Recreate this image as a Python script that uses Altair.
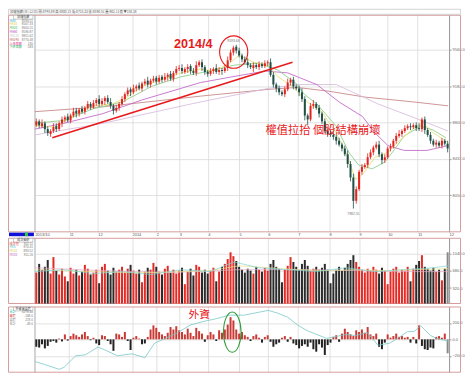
import altair as alt
import pandas as pd

# ---------------- data ----------------
close = [8820, 8780, 8800, 8740, 8700, 8720, 8760, 8740, 8800, 8840,
         8860, 8830, 8880, 8920, 8900, 8940, 8920, 8960, 9000, 8970,
         9010, 9040, 9000, 9030, 9060, 9020, 8980, 8930, 8960, 9000,
         9050, 9100, 9140, 9120, 9160, 9180, 9160, 9210, 9230, 9200,
         9240, 9260, 9230, 9270, 9250, 9280, 9300, 9260, 9320, 9360,
         9370, 9340, 9360, 9380, 9340, 9320, 9400, 9430, 9380, 9330,
         9310, 9340, 9360, 9330, 9350, 9340, 9370, 9450, 9530, 9580,
         9550, 9500, 9460, 9430, 9400, 9380, 9400, 9380, 9410, 9390,
         9420, 9430, 9300, 9200, 9160, 9120, 9100, 9150, 9220, 9250,
         9180, 9160, 9120, 9050, 8880, 8840, 8980, 9000, 8960, 8900,
         8820, 8720, 8690, 8680, 8660, 8620, 8580, 8540, 8480, 8380,
         8240, 8000, 8120, 8300, 8350, 8370, 8450, 8500, 8550, 8580,
         8480, 8420, 8450, 8540, 8560, 8620, 8670, 8690, 8720, 8750,
         8770, 8760, 8780, 8750, 8740, 8840, 8730, 8680, 8620, 8580,
         8600, 8570, 8620, 8590, 8540]
open_ = [8780, 8820, 8770, 8800, 8740, 8690, 8720, 8770, 8740, 8800,
         8840, 8870, 8830, 8880, 8930, 8900, 8950, 8920, 8960, 9000,
         8970, 9010, 9050, 9000, 9030, 9060, 9020, 8980, 8930, 8960,
         9000, 9050, 9100, 9150, 9120, 9160, 9190, 9160, 9210, 9240,
         9200, 9240, 9270, 9230, 9280, 9250, 9280, 9310, 9260, 9320,
         9360, 9370, 9330, 9360, 9390, 9340, 9320, 9400, 9430, 9380,
         9330, 9310, 9340, 9370, 9330, 9350, 9340, 9370, 9450, 9530,
         9590, 9550, 9500, 9460, 9430, 9400, 9370, 9400, 9380, 9410,
         9390, 9420, 9430, 9300, 9200, 9160, 9120, 9100, 9150, 9220,
         9250, 9180, 9160, 9120, 9050, 8880, 8840, 8980, 9000, 8960,
         8900, 8820, 8720, 8700, 8680, 8660, 8620, 8580, 8540, 8480,
         8380, 8240, 8000, 8120, 8300, 8350, 8370, 8450, 8500, 8550,
         8580, 8480, 8420, 8450, 8540, 8560, 8620, 8670, 8690, 8720,
         8750, 8770, 8760, 8780, 8750, 8740, 8840, 8730, 8680, 8620,
         8580, 8600, 8570, 8620, 8590]
wick_up = [30, 20, 40, 20, 30, 20, 40, 30, 20, 30,
           20, 30, 20, 40, 30, 20, 30, 20, 30, 20,
           30, 20, 40, 30, 20, 30, 40, 20, 30, 20,
           30, 20, 30, 20, 40, 20, 30, 20, 30, 40,
           20, 30, 20, 30, 20, 40, 20, 30, 20, 30,
           30, 40, 20, 30, 20, 30, 40, 20, 30, 20,
           20, 30, 20, 40, 30, 20, 30, 40, 30, 20,
           20, 30, 20, 30, 40, 20, 30, 20, 30, 20,
           30, 20, 40, 30, 20, 30, 20, 30, 40, 20,
           30, 20, 30, 40, 30, 20, 30, 40, 20, 30,
           20, 30, 20, 30, 40, 20, 30, 20, 30, 40,
           30, 40, 30, 20, 30, 20, 40, 30, 20, 30,
           40, 20, 30, 20, 30, 20, 30, 40, 20, 30,
           20, 30, 20, 30, 50, 20, 30, 20, 30, 20,
           30, 20, 30, 20, 30]
wick_dn = [20, 30, 20, 40, 30, 30, 20, 30, 20, 40,
           30, 20, 30, 20, 40, 30, 20, 30, 20, 30,
           20, 30, 30, 20, 40, 20, 30, 40, 20, 30,
           20, 30, 20, 40, 20, 30, 20, 30, 20, 30,
           30, 20, 30, 20, 30, 20, 40, 20, 30, 20,
           20, 30, 20, 40, 30, 20, 30, 20, 40, 30,
           30, 20, 30, 20, 30, 40, 20, 30, 20, 30,
           30, 20, 30, 20, 30, 20, 40, 20, 30, 20,
           20, 30, 20, 30, 40, 30, 20, 30, 20, 30,
           30, 20, 40, 30, 50, 60, 20, 30, 20, 40,
           30, 20, 30, 20, 30, 40, 20, 30, 20, 40,
           40, 80, 30, 20, 30, 20, 30, 20, 30, 20,
           30, 40, 30, 20, 30, 20, 30, 20, 30, 20,
           20, 30, 20, 30, 20, 30, 40, 20, 30, 20,
           30, 20, 30, 20, 40]
volume = [640, 820, 700, 760, 900, 620, 960, 680, 600, 720,
          560, 460, 740, 620, 700, 580, 660, 800, 720, 600,
          640, 700, 420, 760, 820, 680, 600, 740, 660, 700,
          760, 640, 720, 800, 680, 620, 700, 440, 660, 740,
          700, 840, 760, 660, 600, 720, 780, 640, 700, 620,
          680, 740, 400, 660, 720, 580, 800, 760, 640, 700,
          620, 680, 740, 460, 660, 760, 820, 920, 1060, 980,
          880, 760, 700, 640, 720, 680, 620, 760, 700, 660,
          740, 680, 820, 900, 760, 720, 440, 700, 780, 960,
          860, 760, 700, 820, 900, 780, 680, 720, 760, 700,
          740, 820, 700, 420, 620, 700, 760, 680, 740, 820,
          900, 1000, 860, 760, 700, 640, 720, 680, 760, 700,
          620, 740, 680, 400, 660, 720, 760, 640, 700, 680,
          760, 460, 720, 800, 880, 1000, 760, 720, 680, 740,
          660, 700, 480, 720, 1060]
foreign = [-90, -100, -60, -110, -80, -30, -20, -40, 10, -25,
           60, -15, 40, 70, 50, 30, 60, 90, 40, -10,
           20, -50, -70, 50, 40, -20, -60, -140, 70, 60,
           30, 90, -20, -130, 20, 40, 10, -60, -50, 30,
           120, 170, 140, 90, 60, 40, 80, 150, 120, 160,
           110, 90, 60, 130, 80, 40, 140, 100, 70, -30,
           50, 90, 60, -20, 110, 80, 120, 180, 270, 230,
           120, 70, 90, 50, 30, -20, 40, 60, 20, -40,
           30, 50, -30, -90, -60, -40, 20, 40, -30, 30,
           -50, -70, -110, -80, -60, -90, -40, -120, -150, -60,
           -100, -190, -70, -40, 30, 50, -30, 70, 130, 90,
           60, 40, 110, 90, 120, 80, 150, 60, 40, 70,
           -90, -120, -40, 60, 20, 40, 70, 30, 40, 20,
           30, -40, 30, -50, 170, -80, -120, -130, -100, -110,
           30, 40, 20, 70, -170]

# moving-average / cumulative lines (bar index, value)
ma10_i = [0, 6.8, 13.6, 20.4, 27.2, 32.3, 37.4, 44.2, 51.1, 57.9, 63, 68.1, 71.5, 76.6, 81.7, 85.1, 90.2, 95.3, 100.4, 105.5, 108.9, 112.3, 114.7, 119.1, 123.6, 127.6, 132.7, 136.1, 139.5, 144.7]
ma10_v = [8780, 8760, 8880, 8980, 9000, 9070, 9180, 9250, 9320, 9360, 9340, 9420, 9500, 9430, 9400, 9280, 9180, 9020, 8920, 8700, 8500, 8220, 8270, 8450, 8500, 8620, 8750, 8800, 8700, 8600]
ma20_i = [0, 10.2, 20.4, 30.6, 40.8, 51.1, 61.3, 69.8, 78.3, 85.1, 91.9, 94.3, 98.7, 105.5, 109.9, 113.3, 118.1, 122.5, 125.9, 129.3, 135.1, 139.5, 143.9]
ma20_v = [8800, 8830, 8950, 9020, 9180, 9280, 9340, 9400, 9420, 9350, 9200, 9100, 9000, 8770, 8500, 8370, 8330, 8400, 8530, 8670, 8770, 8730, 8650]
ma60_i = [0, 10.2, 23.8, 37.4, 51.1, 57.9, 69.1, 80.7, 88.5, 91.9, 98.7, 106.5, 114.7, 119.1, 123.6, 129.3, 137.2, 144.7]
ma60_v = [8740, 8800, 8900, 9040, 9160, 9220, 9280, 9340, 9320, 9280, 9200, 9020, 8870, 8700, 8570, 8520, 8520, 8570]
ma120_i = [0, 23.8, 57.9, 81.7, 91.9, 105.5, 120.1, 131.7, 144.7]
ma120_v = [8680, 8800, 9020, 9160, 9200, 9200, 9000, 8870, 8720]
ma240_i = [0, 23.8, 57.9, 81.7, 91.9, 103.1, 115.7, 132.7, 144.7]
ma240_v = [8920, 8970, 9080, 9150, 9170, 9130, 9070, 9020, 8980]

vma1_i = [0, 10.2, 20.4, 30.6, 40.8, 51.1, 61.3, 69.8, 78.3, 88.5, 98.7, 108.9, 119.1, 129.3, 139.5, 144.7]
vma1_v = [660, 700, 620, 660, 600, 700, 660, 860, 740, 700, 660, 740, 660, 700, 740, 780]
vma2_i = [0, 10.2, 20.4, 30.6, 40.8, 51.1, 61.3, 71.5, 81.7, 91.9, 102.1, 112.3, 122.5, 132.7, 144.7]
vma2_v = [700, 680, 660, 640, 640, 660, 680, 780, 740, 700, 680, 700, 680, 700, 720]
vma3_i = [0, 23.8, 47.7, 71.5, 91.9, 112.3, 132.7, 144.7]
vma3_v = [740, 680, 640, 700, 700, 680, 660, 660]

cum_i = [0, 3.4, 8.5, 10.2, 14.3, 17.7, 22.1, 23.8, 28.9, 34, 38.5, 41.9, 44.2, 49.4, 54.5, 59.6, 63, 68.1, 73.2, 78.3, 81.7, 85.1, 88.5, 91.9, 95.3, 98.7, 102.1, 105.5, 108.9, 112.3, 116.4, 120.1, 124.2, 127, 130.4, 132.7, 135.1, 136.1, 138.5, 140.6, 144.7]
cum_v = [-270, -306, -365, -341, -200, -188, -94, -118, -200, -176, -223, -47, -12, 71, 176, 223, 247, 294, 294, 329, 353, 318, 270, 176, 106, 59, 12, 35, 59, 47, 82, -71, -47, 12, 94, 94, 165, 129, 47, 12, -24]

trend_i = [6.1, 90.2]
trend_v = [8650, 9430]

month_pos = [0, 12, 22, 34, 42.5, 50.5, 60.5, 71.5, 81.5, 92, 103, 113.5, 123.5, 134, 145]
month_lab = ["2013/10", "11", "12", "2014", "2", "3", "4", "5", "6", "7", "8", "9", "10", "11", "12"]
price_ticks = [8056, 8432, 8808, 9184, 9560]
vol_ticks = [320, 680, 1040]
fx_ticks = [-200, 0, 200]

price_legend = [("MA5", "8590.51", "#2fa0e0"), ("MA10", "8567.33", "#d8d030"),
                ("MA20", "8600.15", "#40b840"), ("MA60", "8596.87", "#b848c0"),
                ("MA120", "8851.62", "#c8c8c8"), ("MA240", "8770.48", "#c06060"),
                ("上漲家數", "230", "#e03c90"), ("下跌家數", "583", "#30b060")]
vol_legend = [("成交值", "902.11", "#e04040"), ("MV5", "870.41", "#40c0c0"),
              ("MV10", "893.52", "#d8d040"), ("MV20", "911.26", "#c060c0")]
fx_legend = [("累計", "3278.40", "#40c0c0"), ("買超", "-168.0", "#d04040"),
             ("賣超", "219.0", "#888888"), ("合計", "-49.0", "#888888")]

# ---------------- styling ----------------
UP, DOWN = "#e5231d", "#1f4f47"
VUP, VDN = "#e42a24", "#2b2b2b"
FUP, FDN = "#c93a35", "#222222"
GREY = "#8a8a8a"
PINK = "#d69c9c"
GRID = "#d9d9d9"
RED = "#e8191b"
CJK = "Noto Sans CJK TC"
W, H1, H2, H3 = 416, 218, 66, 66
RIGHT = 427.5

n = len(close)
df = pd.DataFrame({"i": list(range(n)), "open": open_, "close": close,
                   "wu": wick_up, "wd": wick_dn, "vol": volume, "fx": foreign})
df["x0"] = df["i"] + 0.15
df["x1"] = df["i"] + 0.85
df["xc"] = df["i"] + 0.5
df["high"] = df[["open", "close"]].max(axis=1) + df["wu"]
df["low"] = df[["open", "close"]].min(axis=1) - df["wd"]
up = df["close"] >= df["open"]
df["ccol"] = up.map({True: UP, False: DOWN})
df["vcol"] = up.map({True: VUP, False: VDN})
df.loc[n - 1, "vcol"] = GREY
df["fcol"] = (df["fx"] >= 0).map({True: FUP, False: FDN})
df.loc[n - 1, "fcol"] = GREY
df["zero"] = 0

one = pd.DataFrame({"k": [0]})
xs = alt.Scale(domain=[0, 145], nice=False, zero=False)
ys_price = alt.Scale(domain=[7680, 9920], nice=False, zero=False)
ys_vol = alt.Scale(domain=[0, 1360], nice=False, zero=False)
ys_fx = alt.Scale(domain=[-400, 400], nice=False, zero=False)

label_expr = "[" + ",".join("'%s'" % s for s in month_lab) + "][indexof([" + \
    ",".join(str(p) for p in month_pos) + "], datum.value)]"

AX_PRICE = alt.Axis(values=month_pos, labelExpr=label_expr, labelAlign="left",
                    labelBaseline="top", labelFontSize=4, labelColor="#555",
                    labelPadding=0.5, labelFlush=False, labelOverlap=False,
                    ticks=False, domain=False, grid=True, gridColor=GRID,
                    gridWidth=0.8, title=None)
AX_PLAIN = alt.Axis(values=month_pos, labels=False, ticks=False, domain=False,
                    grid=True, gridColor=GRID, gridWidth=0.8, title=None)


def y_axis(vals):
    return alt.Axis(orient="right", values=vals, format=".1f", labelFontSize=4,
                    labelColor="#666", labelPadding=1, ticks=True, tickSize=2,
                    tickColor="#999", domain=True, domainColor="#9a9a9a",
                    grid=True, gridColor=GRID, gridWidth=0.8, title=None,
                    labelOverlap=False)


AY_PRICE = y_axis(price_ticks)
AY_VOL = y_axis(vol_ticks)
AY_FX = y_axis(fx_ticks)


def txt(s, x, y, color, size=3.4, align="left", font=CJK, weight="normal"):
    return alt.Chart(one).mark_text(text=s, align=align, baseline="middle",
                                    fontSize=size, color=color, font=font,
                                    fontWeight=weight).encode(x=alt.value(x), y=alt.value(y))


def box(x0, x1, y0, y1, stroke, sw=1.0, fill="white", fo=0.0):
    return alt.Chart(one).mark_rect(fill=fill, fillOpacity=fo, stroke=stroke,
                                    strokeWidth=sw).encode(
        x=alt.value(x0), x2=alt.value(x1), y=alt.value(y0), y2=alt.value(y1))


def vrule(x, y0, y1, color, sw=0.8):
    return alt.Chart(one).mark_rule(color=color, strokeWidth=sw).encode(
        x=alt.value(x), y=alt.value(y0), y2=alt.value(y1))


def legend(title, rows, top):
    out = [box(-21.5, -2, top + 0.5, top + 4.4, "#9a9a9a", 0.5, "white", 1.0),
           txt(title, -11.7, top + 2.5, "#444", 3.1, "center")]
    for k, (lab, val, col) in enumerate(rows):
        y = top + 5.8 + k * 3.85
        out.append(txt(lab, -25.5, y, col, 3.1))
        out.append(txt(val, -2, y, "#777", 3.1, "right", "Liberation Sans"))
    return out


def line(ii, vv, color, ysc, ax, ay, sw=0.9):
    d = pd.DataFrame({"x": ii, "v": vv})
    return alt.Chart(d).mark_line(color=color, strokeWidth=sw).encode(
        x=alt.X("x:Q", scale=xs, axis=ax), y=alt.Y("v:Q", scale=ysc, axis=ay))


def note(x, v, s, size, color, ysc, ax, ay, align="left", baseline="middle",
         font=CJK, weight="normal"):
    d = pd.DataFrame({"x": [x], "v": [v], "t": [s]})
    return alt.Chart(d).mark_text(align=align, baseline=baseline, fontSize=size,
                                  color=color, font=font, fontWeight=weight).encode(
        x=alt.X("x:Q", scale=xs, axis=ax), y=alt.Y("v:Q", scale=ysc, axis=ay), text="t:N")


def ellipse(x, v, path, size, color, ysc, ax, ay):
    d = pd.DataFrame({"x": [x], "v": [v]})
    return alt.Chart(d).mark_point(shape=path, size=size, filled=False, color=color,
                                   strokeWidth=1.1, opacity=1).encode(
        x=alt.X("x:Q", scale=xs, axis=ax), y=alt.Y("v:Q", scale=ysc, axis=ay))


# ---------------- price panel ----------------
PA = (ys_price, AX_PRICE, AY_PRICE)
wick = alt.Chart(df).mark_rule(strokeWidth=0.8).encode(
    x=alt.X("xc:Q", scale=xs, axis=AX_PRICE),
    y=alt.Y("low:Q", scale=ys_price, axis=AY_PRICE),
    y2="high:Q", color=alt.Color("ccol:N", scale=None))
body = alt.Chart(df).mark_rect().encode(
    x=alt.X("x0:Q", scale=xs, axis=AX_PRICE), x2="x1:Q",
    y=alt.Y("open:Q", scale=ys_price, axis=AY_PRICE), y2="close:Q",
    color=alt.Color("ccol:N", scale=None))

header = [box(-26.5, RIGHT, -5.5, -0.5, "#b8b8b8", 0.6, "white", 1.0),
          txt("加權指數(日)  12/01  開:8748.89  高:8800.15  低:8715.33  收:8590.51  量:902.11億  ▼158.38",
              -25, -3, "#555", 3.3)]

ELL_RED = "M -1 0 A 1 1.15 0 1 1 1 0 A 1 1.15 0 1 1 -1 0 Z"
ELL_GRN = "M -1 0 A 1 2.3 0 1 1 1 0 A 1 2.3 0 1 1 -1 0 Z"

price = alt.layer(
    box(-26.5, RIGHT, 0.5, H1, PINK), vrule(0, 0, H1, "#aaaaaa"),
    *header, *legend("加權指數", price_legend, 0),
    line(ma240_i, ma240_v, "#c98a8a", *PA), line(ma120_i, ma120_v, "#d8bfe0", *PA),
    line(ma60_i, ma60_v, "#c46ccc", *PA), line(ma20_i, ma20_v, "#8fcf8f", *PA),
    line(ma10_i, ma10_v, "#e6e27a", *PA),
    wick, body,
    line(trend_i, trend_v, RED, *PA, sw=1.5),
    note(48.7, 9580, "2014/4", 12.7, RED, *PA, baseline="alphabetic",
         font="Liberation Sans", weight="bold"),
    note(80.7, 8720, "權值拉抬 個股結構崩壞", 11.3, RED, *PA),
    note(69.5, 9645, "9593.68", 3.4, "#777", *PA, align="center", font="Liberation Sans"),
    note(111.5, 7865, "7982.55", 3.4, "#777", *PA, align="center", font="Liberation Sans"),
    ellipse(69.6, 9535, ELL_RED, 800, RED, *PA),
    box(-26, -1, H1 + 0.8, H1 + 4.4, "#1010d8", 0.0, "#1010d8", 1.0),
    box(-10, -7, H1 + 0.8, H1 + 4.4, "#30d030", 0.0, "#30d030", 1.0),
).properties(width=W, height=H1)

# ---------------- volume panel ----------------
VA = (ys_vol, AX_PLAIN, AY_VOL)
vbars = alt.Chart(df).mark_rect().encode(
    x=alt.X("x0:Q", scale=xs, axis=AX_PLAIN), x2="x1:Q",
    y=alt.Y("vol:Q", scale=ys_vol, axis=AY_VOL), y2="zero:Q",
    color=alt.Color("vcol:N", scale=None))

volp = alt.layer(
    box(-26.5, RIGHT, 0.5, H2, PINK), vrule(0, 0, H2, "#aaaaaa"),
    *legend("成交金額", vol_legend, 0),
    vbars,
    line(vma3_i, vma3_v, "#e6b0cc", *VA, sw=0.7),
    line(vma2_i, vma2_v, "#e6e28a", *VA, sw=0.7),
    line(vma1_i, vma1_v, "#7fd4d4", *VA, sw=0.7),
    box(-26.5, RIGHT, H2, H2 + 2, "white", 0.0, "white", 0.0),
).properties(width=W, height=H2)

# ---------------- foreign investors panel ----------------
FA = (ys_fx, AX_PLAIN, AY_FX)
fbars = alt.Chart(df).mark_rect().encode(
    x=alt.X("x0:Q", scale=xs, axis=AX_PLAIN), x2="x1:Q",
    y=alt.Y("fx:Q", scale=ys_fx, axis=AY_FX), y2="zero:Q",
    color=alt.Color("fcol:N", scale=None))

fxp = alt.layer(
    box(-26.5, RIGHT, 0.5, H3, PINK), vrule(0, 0, H3, "#aaaaaa"),
    *legend("外資買賣超", fx_legend, 0),
    fbars, line(cum_i, cum_v, "#78c8c8", *FA, sw=0.8),
    note(53.8, 300, "外資", 10.8, RED, *FA),
    ellipse(69.1, 88, ELL_GRN, 310, "#2e9e3a", *FA),
).properties(width=W, height=H3)

chart = alt.vconcat(price, volp, fxp, spacing=0).properties(
    padding=0, background="white").configure_view(strokeWidth=0)

chart.save("out.html", embed_options={"renderer": "svg", "actions": False})
